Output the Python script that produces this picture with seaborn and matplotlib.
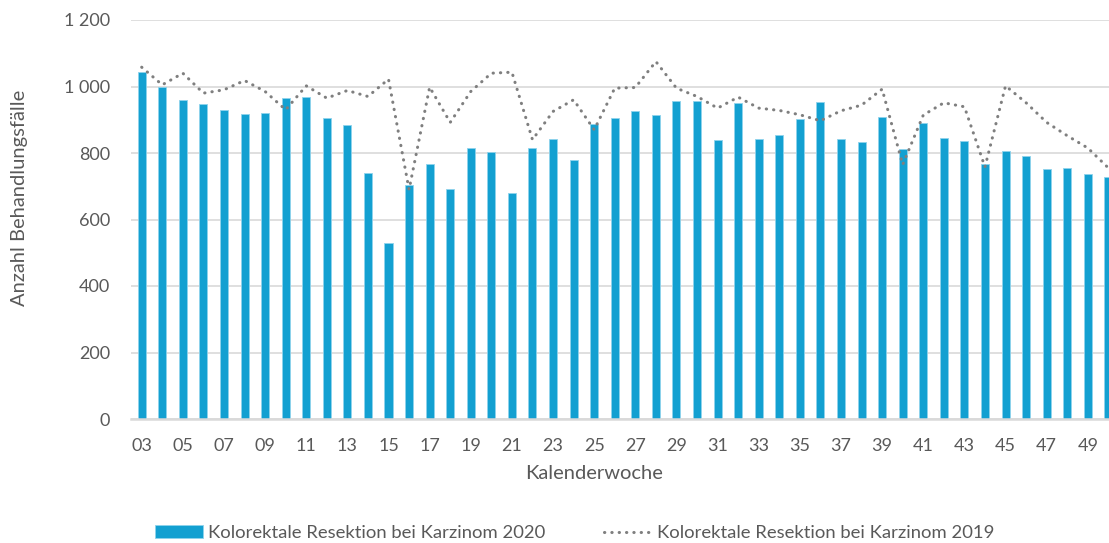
import numpy as np
import pandas as pd
import seaborn as sns
import matplotlib.pyplot as plt

# calendar weeks 03..50
weeks = [f"{w:02d}" for w in range(3, 51)]

cases_2020 = [1043, 998, 960, 947, 929, 917, 919, 964, 968, 906,
              884, 741, 529, 704, 767, 691, 816, 804, 679, 814,
              842, 780, 887, 906, 927, 914, 955, 955, 840, 950,
              843, 855, 901, 953, 841, 833, 908, 812, 890, 844,
              836, 767, 806, 790, 753, 755, 737, 727]

cases_2019 = [1058, 1005, 1040, 980, 990, 1018, 985, 930, 1002, 965,
              988, 970, 1022, 690, 998, 892, 985, 1040, 1043, 840,
              925, 960, 870, 995, 997, 1075, 995, 970, 935, 968,
              935, 928, 915, 897, 927, 944, 992, 765, 914, 951,
              939, 758, 1002, 951, 892, 852, 815, 755]

label_2020 = "Kolorektale Resektion bei Karzinom 2020"
label_2019 = "Kolorektale Resektion bei Karzinom 2019"

BAR_COLOR = "#13A0D1"
LINE_COLOR = "#7F7F7F"
TEXT_COLOR = "#595959"
GRID_COLOR = "#D9D9D9"


def main():
    sns.set_theme(style="white")
    plt.rcParams["font.family"] = ["Lato", "DejaVu Sans"]

    df = pd.DataFrame({"week": weeks, "y2020": cases_2020, "y2019": cases_2019})
    df["pos"] = np.arange(len(df))

    fig = plt.figure(figsize=(11.09, 5.43), dpi=100)
    ax = fig.add_axes([131 / 1109, 124 / 543, 978 / 1109, 399 / 543])

    sns.barplot(data=df, x="week", y="y2020", order=weeks, color=BAR_COLOR,
                width=0.39, saturation=1, edgecolor="#8FD3EC", linewidth=0.6,
                label=label_2020, ax=ax, zorder=2)
    sns.lineplot(data=df, x="pos", y="y2019", color=LINE_COLOR, lw=2.2,
                 linestyle=(0, (0.1, 2.3)), dash_capstyle="round",
                 label=label_2019, ax=ax, zorder=3)

    ax.set_ylim(0, 1200)
    ax.set_xlim(-0.52, len(weeks) - 0.97)
    ax.set_yticks(range(0, 1201, 200))
    ax.set_yticklabels([f"{v:,}".replace(",", " ") for v in range(0, 1201, 200)])
    ax.set_xticks(df["pos"][::2])
    ax.set_xticklabels(weeks[::2])
    ax.tick_params(axis="both", length=0, labelsize=13, colors=TEXT_COLOR)
    ax.tick_params(axis="x", pad=14)
    ax.tick_params(axis="y", pad=15)

    ax.yaxis.grid(True, color=GRID_COLOR, lw=1.2)
    ax.set_axisbelow(True)
    for s in ["top", "right", "left"]:
        ax.spines[s].set_visible(False)
    ax.spines["bottom"].set_color(GRID_COLOR)
    ax.spines["bottom"].set_linewidth(1.8)

    ax.set_xlabel("Kalenderwoche", fontsize=14.5, color=TEXT_COLOR)
    ax.set_ylabel("Anzahl Behandlungsfälle", fontsize=14.5, color=TEXT_COLOR)
    ax.xaxis.set_label_coords(0.473, -0.115)
    ax.yaxis.set_label_coords(-0.105, 0.554)

    handles, labels = ax.get_legend_handles_labels()
    if ax.legend_:
        ax.legend_.remove()
    # bars first, then the 2019 line
    order = [labels.index(label_2020), labels.index(label_2019)]
    fig.legend([handles[i] for i in order], [labels[i] for i in order],
               loc="center", bbox_to_anchor=(0.518, 0.018),
               ncol=2, frameon=False, fontsize=13.3, labelcolor=TEXT_COLOR,
               handlelength=2.6, handletextpad=0.25, columnspacing=3.2)

    fig.savefig("out.png", dpi=100)
    plt.close(fig)


if __name__ == "__main__":
    main()
